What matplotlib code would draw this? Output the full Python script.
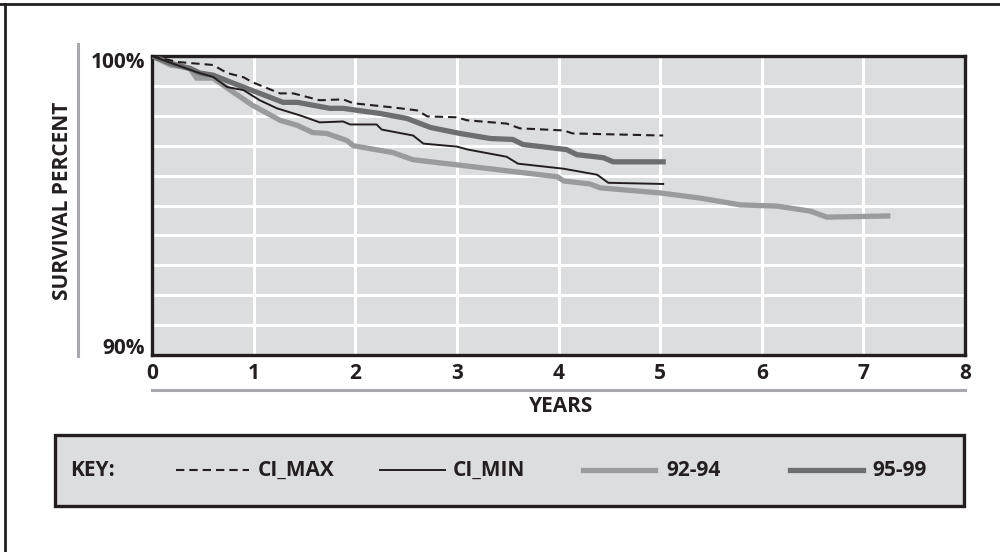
import matplotlib
matplotlib.use("Agg")
from matplotlib import pyplot as plt
from matplotlib.lines import Line2D
import matplotlib.patches as patches

# данные (годы, процент выживаемости)
ci_max_x = [0, 0.25, 0.60, 0.74, 0.90, 0.99, 1.26, 1.39, 1.65, 1.88, 1.98, 2.37, 2.61, 2.71,
            3.00, 3.10, 3.49, 3.62, 4.05, 4.14, 5.03]
ci_max_y = [100, 99.80, 99.70, 99.43, 99.29, 99.12, 98.75, 98.75, 98.52, 98.55, 98.42, 98.28,
            98.18, 97.98, 97.95, 97.85, 97.74, 97.58, 97.51, 97.41, 97.34]

ci_min_x = [0, 0.20, 0.45, 0.60, 0.74, 0.90, 1.06, 1.23, 1.46, 1.65, 1.88, 1.95, 2.21, 2.26,
            2.57, 2.67, 3.00, 3.11, 3.49, 3.60, 4.05, 4.38, 4.49, 5.03]
ci_min_y = [100, 99.75, 99.45, 99.30, 98.96, 98.86, 98.52, 98.25, 98.01, 97.78, 97.81, 97.71,
            97.71, 97.54, 97.34, 97.07, 96.97, 96.87, 96.63, 96.40, 96.23, 96.03, 95.76, 95.72]

s9294_x = [0, 0.18, 0.37, 0.44, 0.60, 0.80, 0.99, 1.26, 1.43, 1.58, 1.72, 1.92, 1.98, 2.37,
           2.57, 3.00, 3.99, 4.05, 4.31, 4.41, 5.00, 5.39, 5.79, 6.15, 6.48, 6.64, 7.24]
s9294_y = [100, 99.70, 99.60, 99.26, 99.26, 98.79, 98.35, 97.85, 97.68, 97.44, 97.41, 97.17,
           97.00, 96.77, 96.53, 96.36, 95.96, 95.82, 95.72, 95.59, 95.42, 95.25, 95.02, 94.98,
           94.81, 94.61, 94.65]

s9599_x = [0, 0.18, 0.39, 0.47, 0.60, 0.80, 1.06, 1.29, 1.43, 1.75, 1.88, 2.24, 2.51, 2.74,
           3.03, 3.33, 3.55, 3.65, 4.08, 4.18, 4.44, 4.54, 5.03]
s9599_y = [100, 99.76, 99.56, 99.43, 99.36, 99.09, 98.75, 98.45, 98.45, 98.25, 98.25, 98.08,
           97.91, 97.61, 97.41, 97.24, 97.21, 97.04, 96.87, 96.70, 96.60, 96.46, 96.46]

x_ticks = [0, 1, 2, 3, 4, 5, 6, 7, 8]

BG = "#dcdddf"
LIGHT = "#9a9b9d"
DARK = "#6d6e70"
BLACK = "#231f20"
FS = 15

plt.rcParams['font.family'] = ['Open Sans', 'DejaVu Sans']
plt.rcParams['font.weight'] = 'bold'

W, H = 1000, 552
fig = plt.figure(figsize=(10, 5.52), dpi=100, facecolor='white')


def fx(px):
    return px / W


def fy(py):
    return 1 - py / H


ax = fig.add_axes([fx(152), fy(355), fx(965) - fx(152), fy(56) - fy(355)])
ax.set_facecolor(BG)

# сетка
for v in range(1, 8):
    ax.axvline(v, color='white', lw=2.2, zorder=1)
for v in range(91, 100):
    ax.axhline(v, color='white', lw=2.2, zorder=1)

# линии
ax.plot(s9294_x, s9294_y, color=LIGHT, lw=3.8, zorder=2, solid_joinstyle='miter')
ax.plot(s9599_x, s9599_y, color=DARK, lw=3.8, zorder=3, solid_joinstyle='miter')
ax.plot(ci_min_x, ci_min_y, color=BLACK, lw=1.4, zorder=4)
ax.plot(ci_max_x, ci_max_y, color=BLACK, lw=1.5, ls=(0, (4, 2.4)), zorder=4)

ax.set_xlim(0, 8)
ax.set_ylim(90, 100)
ax.set_yticks([])
ax.set_xticks(x_ticks)
ax.set_xticklabels([str(t) for t in x_ticks], fontsize=FS, fontweight='bold', color=BLACK)
ax.tick_params(axis='x', length=0, pad=6)
for s in ax.spines.values():
    s.set_color(BLACK)
    s.set_linewidth(2.4)

# подписи оси y
fig.text(fx(145), fy(62), "100%", ha='right', va='center', fontsize=FS, fontweight='bold', color=BLACK)
fig.text(fx(145), fy(349), "90%", ha='right', va='center', fontsize=FS, fontweight='bold', color=BLACK)
fig.text(fx(63), fy(201), "SURVIVAL PERCENT", rotation=90, ha='center', va='center',
         fontsize=FS, fontweight='bold', color=BLACK)
fig.text(fx(561), fy(407), "YEARS", ha='center', va='center', fontsize=FS, fontweight='bold', color=BLACK)

# серые линии
fig.add_artist(Line2D([fx(78), fx(78)], [fy(44), fy(356)], color='#a7a9ac', lw=2.2))
fig.add_artist(Line2D([fx(152), fx(965)], [fy(390), fy(390)], color='#a7a9ac', lw=2.2))

# рамка рисунка
fig.add_artist(Line2D([0, 1], [fy(4), fy(4)], color=BLACK, lw=2))
fig.add_artist(Line2D([fx(5), fx(5)], [0, fy(4)], color=BLACK, lw=2))

# легенда
fig.add_artist(patches.Rectangle((fx(55), fy(506)), fx(964) - fx(55), fy(435) - fy(506),
                                 facecolor=BG, edgecolor=BLACK, lw=2.4))
ly = fy(470)
fig.text(fx(70), ly, "KEY:", ha='left', va='center', fontsize=FS, fontweight='bold', color=BLACK)
fig.add_artist(Line2D([fx(176), fx(249)], [ly, ly], color=BLACK, lw=1.5, ls=(0, (4, 2.4))))
fig.text(fx(258), ly, "CI_MAX", ha='left', va='center', fontsize=FS, fontweight='bold', color=BLACK)
fig.add_artist(Line2D([fx(380), fx(445)], [ly, ly], color=BLACK, lw=1.4))
fig.text(fx(453), ly, "CI_MIN", ha='left', va='center', fontsize=FS, fontweight='bold', color=BLACK)
fig.add_artist(Line2D([fx(583), fx(655)], [ly, ly], color=LIGHT, lw=3.8))
fig.text(fx(666), ly, "92-94", ha='left', va='center', fontsize=FS, fontweight='bold', color=BLACK)
fig.add_artist(Line2D([fx(790), fx(863)], [ly, ly], color=DARK, lw=3.8))
fig.text(fx(872), ly, "95-99", ha='left', va='center', fontsize=FS, fontweight='bold', color=BLACK)

fig.savefig("out.png", dpi=100, facecolor='white')
